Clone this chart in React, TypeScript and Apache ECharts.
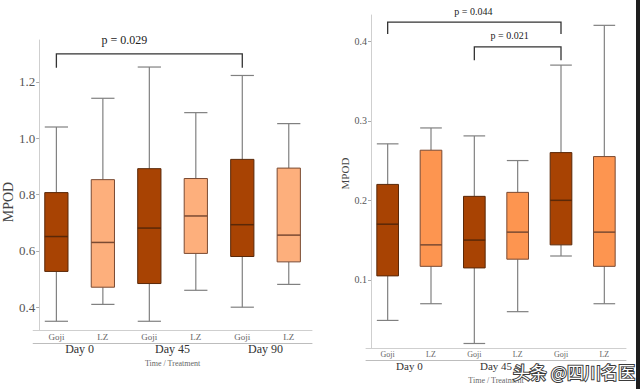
import React, { useEffect, useRef } from "react";
import * as echarts from "echarts";

// ---------- data ----------
const leftCategories = ["Goji", "LZ", "Goji", "LZ", "Goji", "LZ"];
const leftGroups = ["Day 0", "Day 45", "Day 90"];
const leftTicks = [0.4, 0.6, 0.8, 1.0, 1.2];
// [min, Q1, median, Q3, max]
const leftBoxes = [
  [0.35, 0.527, 0.651, 0.807, 1.04],
  [0.41, 0.471, 0.63, 0.853, 1.142],
  [0.35, 0.484, 0.681, 0.892, 1.253],
  [0.46, 0.591, 0.724, 0.857, 1.091],
  [0.4, 0.58, 0.693, 0.925, 1.223],
  [0.481, 0.561, 0.656, 0.894, 1.052],
];
// [fromIndex, toIndex, barValue, endValue]
const leftBrackets = [[0, 4, 1.3, 1.25]];
const leftBracketLabels = ["p = 0.029"];

const rightCategories = ["Goji", "LZ", "Goji", "LZ", "Goji", "LZ"];
// third group label is hidden under the watermark in the reference
const rightGroups = ["Day 0", "Day 45", ""];
const rightTicks = [0.1, 0.2, 0.3, 0.4];
const rightBoxes = [
  [0.049, 0.105, 0.17, 0.22, 0.271],
  [0.07, 0.117, 0.144, 0.263, 0.291],
  [0.02, 0.115, 0.15, 0.205, 0.281],
  [0.06, 0.126, 0.16, 0.21, 0.25],
  [0.13, 0.144, 0.2, 0.26, 0.37],
  [0.07, 0.117, 0.16, 0.255, 0.42],
];
const rightBrackets = [
  [0, 4, 0.424, 0.409],
  [2, 4, 0.393, 0.376],
];
const rightBracketLabels = ["p = 0.044", "p = 0.021"];

const yName = "MPOD";
const xName = "Time / Treatment";
const watermark = "头条 @四川名医";

// ---------- styles ----------
const SERIF = '"Liberation Serif", "DejaVu Serif", serif';
const leftFills = ["#a84303", "#fdaf7c"];
const rightFills = ["#a84303", "#fd9550"];
const borders = ["#5a2808", "#7a4a32"];
const whiskerColor = "#808080";
const leftLabelDx = [-25];
const rightLabelDx = [-1, -8];

function boxRenderer(fills: string[]) {
  return (params: any, api: any) => {
    const i = api.value(0);
    const k = params.dataIndex % 2;
    const band = api.size([1, 0])[0];
    const w = band * 0.5;
    const x = api.coord([i, api.value(3)])[0];
    const y = (d: number) => api.coord([i, api.value(d)])[1];
    const ymin = y(1), yq1 = y(2), ymed = y(3), yq3 = y(4), ymax = y(5);
    const ws = { stroke: whiskerColor, lineWidth: 1.2 };
    return {
      type: "group",
      children: [
        { type: "line", shape: { x1: x, y1: ymax, x2: x, y2: yq3 }, style: ws },
        { type: "line", shape: { x1: x, y1: yq1, x2: x, y2: ymin }, style: ws },
        { type: "line", shape: { x1: x - w / 2, y1: ymax, x2: x + w / 2, y2: ymax }, style: ws },
        { type: "line", shape: { x1: x - w / 2, y1: ymin, x2: x + w / 2, y2: ymin }, style: ws },
        {
          type: "rect",
          shape: { x: x - w / 2, y: yq3, width: w, height: yq1 - yq3 },
          style: { fill: fills[k], stroke: borders[k], lineWidth: 1 },
        },
        {
          type: "line",
          shape: { x1: x - w / 2, y1: ymed, x2: x + w / 2, y2: ymed },
          style: { stroke: borders[k], lineWidth: 1.5 },
        },
      ],
    };
  };
}

function bracketRenderer(labels: string[], dx: number[], fontSize: number, gap: number) {
  return (params: any, api: any) => {
    const a = api.coord([api.value(0), api.value(2)]);
    const b = api.coord([api.value(1), api.value(2)]);
    const yEnd = api.coord([api.value(0), api.value(3)])[1];
    return {
      type: "group",
      children: [
        {
          type: "polyline",
          shape: { points: [[a[0], yEnd], [a[0], a[1]], [b[0], b[1]], [b[0], yEnd]] },
          style: { stroke: "#333", fill: null, lineWidth: 1.3 },
        },
        {
          type: "text",
          x: (a[0] + b[0]) / 2 + dx[params.dataIndex],
          y: a[1] - gap,
          style: {
            text: labels[params.dataIndex],
            fill: "#222",
            font: `${fontSize}px ${SERIF}`,
            align: "center",
            verticalAlign: "bottom",
          },
        },
      ],
    };
  };
}

export default function App() {
  const ref = useRef<HTMLDivElement>(null);
  useEffect(() => {
    if (!ref.current) return;
    const chart = echarts.init(ref.current, undefined, { renderer: "svg" });
    const axisLineGrey = { lineStyle: { color: "#cfcfcf", width: 1 } };

    const option: any = {
      animation: false,
      backgroundColor: "#ffffff",
      grid: [
        { left: 24, top: 40, width: 288, height: 290 },
        { left: 366, top: 15, width: 260, height: 338 },
      ],
      xAxis: [
        {
          gridIndex: 0,
          type: "category",
          data: leftCategories,
          axisLine: axisLineGrey,
          axisTick: { show: false },
          axisLabel: { color: "#666", fontFamily: SERIF, fontSize: 9, margin: 2 },
        },
        {
          gridIndex: 0,
          type: "category",
          data: leftGroups,
          position: "bottom",
          offset: 13,
          axisLine: { lineStyle: { color: "#bdbdbd", width: 1 } },
          axisTick: { show: false },
          axisLabel: { color: "#333", fontFamily: SERIF, fontSize: 12, margin: 0 },
          name: xName,
          nameLocation: "middle",
          nameGap: 11,
          nameTextStyle: { color: "#666", fontFamily: SERIF, fontSize: 8 },
        },
        {
          gridIndex: 1,
          type: "category",
          data: rightCategories,
          axisLine: axisLineGrey,
          axisTick: { show: false },
          axisLabel: { color: "#666", fontFamily: SERIF, fontSize: 8, margin: 2 },
        },
        {
          gridIndex: 1,
          type: "category",
          data: rightGroups,
          position: "bottom",
          offset: 12,
          axisLine: { lineStyle: { color: "#bdbdbd", width: 1 } },
          axisTick: { show: false },
          axisLabel: { color: "#333", fontFamily: SERIF, fontSize: 11, margin: 0 },
          name: xName,
          nameLocation: "middle",
          nameGap: 13,
          nameTextStyle: { color: "#666", fontFamily: SERIF, fontSize: 8 },
        },
      ],
      yAxis: [
        {
          gridIndex: 0,
          type: "value",
          min: 0.319,
          max: 1.349,
          offset: -6,
          splitLine: { show: false },
          axisLine: { show: true, ...axisLineGrey },
          axisTick: { show: true, length: 3, lineStyle: { color: "#aaa" }, customValues: leftTicks },
          axisLabel: {
            color: "#555",
            fontFamily: SERIF,
            fontSize: 13,
            margin: 4,
            customValues: leftTicks,
            formatter: (v: number) => v.toFixed(1),
          },
          name: yName,
          nameLocation: "middle",
          nameGap: 14,
          nameTextStyle: { color: "#444", fontFamily: SERIF, fontSize: 14, padding: [0, 34, 0, 0] },
        },
        {
          gridIndex: 1,
          type: "value",
          min: 0.0142,
          max: 0.433,
          offset: -5,
          splitLine: { show: false },
          axisLine: { show: true, ...axisLineGrey },
          axisTick: { show: true, length: 3, lineStyle: { color: "#aaa" }, customValues: rightTicks },
          axisLabel: {
            color: "#555",
            fontFamily: SERIF,
            fontSize: 10,
            margin: 4,
            customValues: rightTicks,
            formatter: (v: number) => v.toFixed(1),
          },
          name: yName,
          nameLocation: "middle",
          nameGap: 15,
          nameTextStyle: { color: "#444", fontFamily: SERIF, fontSize: 11, padding: [0, 0, 0, 16] },
        },
      ],
      series: [
        {
          type: "custom",
          xAxisIndex: 0,
          yAxisIndex: 0,
          clip: false,
          renderItem: boxRenderer(leftFills),
          encode: { x: 0, y: [1, 2, 3, 4, 5] },
          data: leftBoxes.map((b, i) => [i, ...b]),
        },
        {
          type: "custom",
          xAxisIndex: 0,
          yAxisIndex: 0,
          clip: false,
          renderItem: bracketRenderer(leftBracketLabels, leftLabelDx, 12, 8),
          encode: { x: [0, 1], y: [2, 3] },
          data: leftBrackets,
        },
        {
          type: "custom",
          xAxisIndex: 2,
          yAxisIndex: 1,
          clip: false,
          renderItem: boxRenderer(rightFills),
          encode: { x: 0, y: [1, 2, 3, 4, 5] },
          data: rightBoxes.map((b, i) => [i, ...b]),
        },
        {
          type: "custom",
          xAxisIndex: 2,
          yAxisIndex: 1,
          clip: false,
          renderItem: bracketRenderer(rightBracketLabels, rightLabelDx, 10, 6),
          encode: { x: [0, 1], y: [2, 3] },
          data: rightBrackets,
        },
      ],
      graphic: [
        { type: "rect", right: 0, top: 0, shape: { width: 4, height: 389 }, style: { fill: "#1e1e1e" } },
        {
          type: "text",
          x: 513,
          y: 371,
          z: 100,
          style: {
            text: watermark,
            fill: "#ffffff",
            stroke: "#3a3a3a",
            lineWidth: 2,
            font: '17px "Noto Sans CJK SC", sans-serif',
            verticalAlign: "middle",
          },
        },
      ],
    };
    chart.setOption(option);
    return () => chart.dispose();
  }, []);
  return (
    <div
      ref={ref}
      style={{ position: "fixed", left: 0, top: 0, width: 640, height: 389 }}
    />
  );
}
